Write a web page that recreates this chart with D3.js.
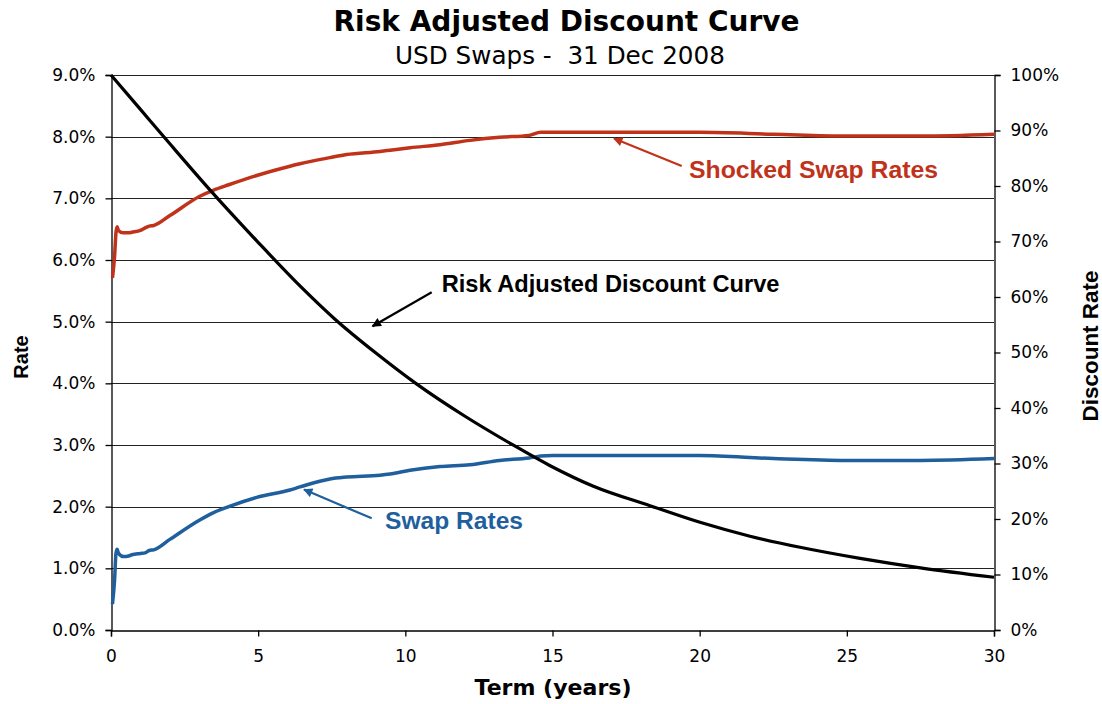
<!DOCTYPE html>
<html><head><meta charset="utf-8">
<script src="https://cdn.jsdelivr.net/npm/d3@7"></script>
<style>body{margin:0;background:#fff}svg{display:block}</style>
</head><body><svg id="c" width="1102" height="704"></svg>
<script>
// ---- data ----
const swapTerms   = [0.05,0.12,0.17,0.21,0.25,0.42,0.6,0.71,1.0,1.16,1.3,1.45,2.0,3.0,3.47,4.0,4.95,6.08,6.42,7.44,8.0,9.14,9.48,10.16,11.18,12.2,13.2,14.2,14.6,15,20,22.5,25,27.5,30];
const swapRates   = [0.42,0.80,1.25,1.31,1.25,1.19,1.20,1.22,1.24,1.25,1.29,1.30,1.47,1.78,1.90,2.00,2.15,2.27,2.32,2.45,2.48,2.51,2.53,2.59,2.65,2.68,2.75,2.79,2.82,2.83,2.83,2.78,2.75,2.75,2.78];
const shockedRates= [5.71,6.05,6.45,6.54,6.48,6.44,6.44,6.45,6.48,6.52,6.55,6.56,6.72,7.03,7.13,7.22,7.37,7.52,7.56,7.66,7.71,7.76,7.78,7.82,7.87,7.94,7.99,8.02,8.07,8.07,8.07,8.04,8.01,8.01,8.04];
const discTerms   = [0,1,2,3.36,4.99,6.42,7.61,9.0,10.39,12.0,13.67,14.92,16.39,18.31,20.01,21.71,23.41,25.45,27.5,30];
const discValues  = [100,93.8,87.6,79.3,69.9,62.0,56.0,49.9,44.3,38.6,33.3,29.6,25.9,22.4,19.4,16.9,14.9,12.9,11.2,9.5];
const xTicks = [0,5,10,15,20,25,30];
const leftTicks = [0,1,2,3,4,5,6,7,8,9];
const rightTicks = [0,10,20,30,40,50,60,70,80,90,100];

const svg = d3.select('#c');
const L=111,R=994,T=75,B=630;
const x = d3.scaleLinear().domain([0,30]).range([L,R]);
const yL = d3.scaleLinear().domain([0,9]).range([B,T]);
const yR = d3.scaleLinear().domain([0,100]).range([B,T]);
const RED='#C0321A', BLUE='#1F5F9E';
const tickFont='DejaVu Sans', annFont='Liberation Sans';

function fit(sel,w){const n=sel.node();const cur=parseFloat(sel.attr('font-size'));const l=n.getComputedTextLength();sel.attr('font-size',cur*w/l);}

// gridlines
svg.append('g').selectAll('line').data(leftTicks.filter(d=>d>0)).join('line')
  .attr('x1',L).attr('x2',R).attr('y1',d=>Math.round(yL(d))+0.5).attr('y2',d=>Math.round(yL(d))+0.5)
  .attr('stroke','#222').attr('stroke-width',1);

// axes
const fmtL=d=>d.toFixed(1)+'%';
const gL=svg.append('g').attr('transform',`translate(${L+0.5},0)`).call(d3.axisLeft(yL).tickValues(leftTicks).tickFormat(fmtL).tickSizeOuter(0).tickSize(6).tickPadding(10));
const gR=svg.append('g').attr('transform',`translate(${R+0.5},0)`).call(d3.axisRight(yR).tickValues(rightTicks).tickFormat(d=>d+'%').tickSizeOuter(0).tickSize(6).tickPadding(10));
const gB=svg.append('g').attr('transform',`translate(0,${B+0.5})`).call(d3.axisBottom(x).tickValues(xTicks).tickFormat(d3.format('d')).tickSizeOuter(0).tickSize(6).tickPadding(13));
[gL,gR,gB].forEach(g=>{g.select('.domain').attr('stroke','#000').attr('stroke-width',1.3);g.selectAll('.tick line').attr('stroke','#000').attr('stroke-width',1.3);g.selectAll('text').attr('font-family',tickFont).attr('font-size',17).attr('fill','#000');});

// lines
const lineL=d3.line().x(d=>x(d[0])).y(d=>yL(d[1])).curve(d3.curveMonotoneX);
const lineR=d3.line().x(d=>x(d[0])).y(d=>yR(d[1])).curve(d3.curveMonotoneX);
svg.append('path').datum(swapTerms.map((t,i)=>[t,shockedRates[i]])).attr('d',lineL).attr('fill','none').attr('stroke',RED).attr('stroke-width',3.5).attr('stroke-linejoin','round');
svg.append('path').datum(swapTerms.map((t,i)=>[t,swapRates[i]])).attr('d',lineL).attr('fill','none').attr('stroke',BLUE).attr('stroke-width',3.5).attr('stroke-linejoin','round');
svg.append('path').datum(discTerms.map((t,i)=>[t,discValues[i]])).attr('d',lineR).attr('fill','none').attr('stroke','#000').attr('stroke-width',3.2).attr('stroke-linejoin','round');

// titles
const t1=svg.append('text').attr('x',566.5).attr('y',31).attr('text-anchor','middle').attr('font-family',tickFont).attr('font-weight','bold').attr('font-size',20).text('Risk Adjusted Discount Curve');fit(t1,466);
const t2=svg.append('text').attr('x',560).attr('y',63.5).attr('text-anchor','middle').attr('font-family',tickFont).attr('font-size',18).attr('xml:space','preserve').text('USD Swaps -  31 Dec 2008');fit(t2,330);
const xt=svg.append('text').attr('x',553).attr('y',695).attr('text-anchor','middle').attr('font-family',tickFont).attr('font-weight','bold').attr('font-size',17).text('Term (years)');fit(xt,157);
svg.append('text').attr('transform','translate(28,357) rotate(-90)').attr('text-anchor','middle').attr('font-family',annFont).attr('font-weight','bold').attr('font-size',20).text('Rate');
const yt2=svg.append('text').attr('transform','translate(1098,346) rotate(-90)').attr('text-anchor','middle').attr('font-family',annFont).attr('font-weight','bold').attr('font-size',19).text('Discount Rate');fit(yt2,151);

// annotations
svg.append('defs').selectAll('marker').data([['k','#000'],['r',RED],['b',BLUE]]).join('marker')
  .attr('id',d=>'ah'+d[0]).attr('viewBox','0 0 10 10').attr('refX',9).attr('refY',5).attr('markerWidth',5.5).attr('markerHeight',4.2).attr('orient','auto').attr('markerUnits','strokeWidth')
  .append('path').attr('d','M0,0L10,5L0,10z').attr('fill',d=>d[1]);
function ann(txt,tx,ty,w,col,id,x1,y1,x2,y2){
  svg.append('line').attr('x1',x1).attr('y1',y1).attr('x2',x2).attr('y2',y2).attr('stroke',col).attr('stroke-width',2.2).attr('marker-end',`url(#ah${id})`);
  const t=svg.append('text').attr('x',tx).attr('y',ty).attr('font-family',annFont).attr('font-weight','bold').attr('font-size',20).attr('fill',col).text(txt);fit(t,w);
}
ann('Risk Adjusted Discount Curve',441.7,292,338,'#000','k',431.7,292.3,372.5,326.2);
ann('Shocked Swap Rates',689,178.3,249,RED,'r',681.7,166,614,138.6);
ann('Swap Rates',385,529.3,138,BLUE,'b',371.7,518.3,304,489.6);
</script></body></html>
